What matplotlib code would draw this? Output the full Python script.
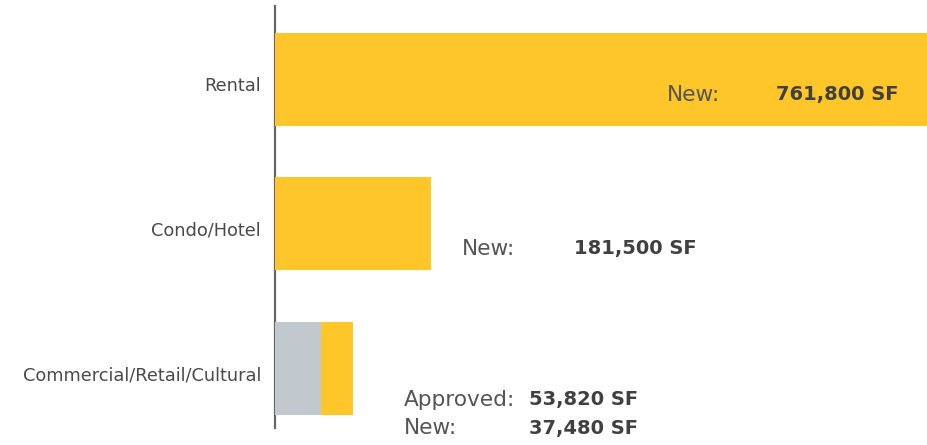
import matplotlib.pyplot as plt
import matplotlib.transforms as mtransforms

categories = ['Rental', 'Condo/Hotel', 'Commercial/Retail/Cultural']
approved_sf = [0, 0, 53820]
new_sf = [761800, 181500, 37480]

YELLOW = '#FFC629'
GRAY = '#C1C8CE'
TEXT = '#4a4a4a'

plt.rcParams['font.family'] = ['DejaVu Sans']

fig = plt.figure(figsize=(9.28, 4.45), dpi=100)
ax = fig.add_axes([275 / 928, 17 / 445, 653 / 928, 422 / 445])

ypos = list(range(len(categories)))
ax.barh(ypos, approved_sf, height=0.645, color=GRAY, zorder=2)
ax.barh(ypos, new_sf, left=approved_sf, height=0.645, color=YELLOW, zorder=2)

ax.set_xlim(0, 761800)
ax.set_ylim(2.415, -0.509)

for s in ['top', 'right', 'bottom']:
    ax.spines[s].set_visible(False)
ax.spines['left'].set_color('#666666')
ax.spines['left'].set_linewidth(1.6)
ax.spines['left'].set_zorder(1)
ax.set_xticks([])
ax.set_yticks(ypos)
ax.set_yticklabels(categories, fontsize=12.8, color=TEXT)
ax.tick_params(axis='y', length=0, pad=10)
shift = mtransforms.ScaledTranslation(0, -5 / 100, fig.dpi_scale_trans)
for t in ax.get_yticklabels():
    t.set_transform(t.get_transform() + shift)

lab = dict(fontsize=15.6, color='#555555', va='center', ha='left')
val = dict(fontsize=14, color='#404040', va='center', ha='left', fontweight='bold')

# Rental
ax.text(457300, 0.107, 'New:', **lab)
ax.text(584500, 0.107, f'{new_sf[0]:,} SF', **val)

# Condo/Hotel
ax.text(218200, 1.173, 'New:', **lab)
ax.text(348800, 1.173, f'{new_sf[1]:,} SF', **val)

# Commercial/Retail/Cultural
ax.text(150500, 2.22, 'Approved:', **lab)
ax.text(296300, 2.22, f'{approved_sf[2]:,} SF', **val)
ax.text(150500, 2.416, 'New:', **lab)
ax.text(296300, 2.416, f'{new_sf[2]:,} SF', **val)

fig.savefig('out.png', dpi=100)
